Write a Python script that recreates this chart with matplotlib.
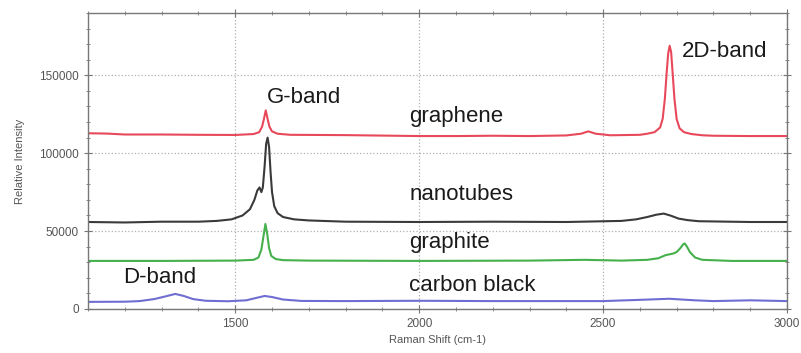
import matplotlib
matplotlib.use("Agg")
import matplotlib.pyplot as plt
from matplotlib.ticker import MultipleLocator

plt.rcParams['font.family'] = ['Liberation Sans', 'DejaVu Sans']

# Raman spectra (shift in cm-1, relative intensity)
graphene_x = [1100, 1150, 1200, 1300, 1400, 1500, 1550, 1565, 1573, 1578, 1583, 1588, 1593, 1600,
              1615, 1650, 1800, 1900, 2000, 2100, 2200, 2300, 2400, 2440, 2460, 2480, 2520, 2600,
              2620, 2640, 2655, 2662, 2668, 2673, 2677, 2681, 2685, 2689, 2694, 2700, 2708, 2720,
              2740, 2770, 2800, 2900, 3000]
graphene_y = [112800, 112600, 112000, 112000, 111800, 111700, 112300, 113500, 117000, 122000, 127500,
              122000, 117000, 114000, 112500, 111800, 111600, 111300, 111000, 111000, 111200, 111000,
              111400, 112500, 114000, 112500, 111500, 111800, 112500, 113500, 116500, 122000, 135000,
              152000, 164000, 169000, 165000, 152000, 135000, 122000, 116000, 113500, 112300, 111500,
              111200, 111000, 111000]

nanotubes_x = [1100, 1200, 1300, 1400, 1450, 1490, 1520, 1540, 1552, 1560, 1566, 1571, 1575, 1580,
               1584, 1588, 1592, 1596, 1600, 1606, 1615, 1630, 1660, 1700, 1800, 2000, 2200, 2400,
               2550, 2590, 2620, 2645, 2665, 2685, 2705, 2730, 2760, 2900, 3000]
nanotubes_y = [55800, 55500, 56000, 56000, 56500, 57500, 60000, 64000, 70000, 76000, 78000, 75000,
               78000, 92000, 106000, 110000, 104000, 88000, 75000, 66000, 61500, 59000, 57500, 56800,
               56000, 55800, 56000, 55800, 56500, 57500, 59000, 60500, 61200, 59800, 58000, 57000,
               56300, 55800, 55800]

graphite_x = [1100, 1300, 1500, 1550, 1563, 1571, 1577, 1582, 1587, 1592, 1598, 1610, 1630, 1700,
              2000, 2300, 2450, 2550, 2620, 2650, 2670, 2690, 2700, 2710, 2718, 2722, 2728, 2736,
              2750, 2770, 2850, 3000]
graphite_y = [30800, 30800, 31000, 31500, 33000, 38000, 47000, 54500, 48000, 39000, 34000, 32000,
              31300, 31000, 30800, 31000, 31500, 31000, 31500, 32500, 34500, 35500, 36500, 39000,
              41500, 42000, 40000, 36500, 33000, 31500, 30800, 30800]

cblack_x = [1100, 1200, 1240, 1280, 1310, 1337, 1360, 1385, 1420, 1480, 1530, 1560, 1580, 1600,
            1630, 1680, 1800, 2000, 2200, 2500, 2600, 2680, 2750, 2800, 2900, 3000]
cblack_y = [4500, 4600, 5000, 6300, 8000, 9600, 8300, 6300, 5200, 4900, 5500, 7200, 8300, 7600,
            6000, 5100, 5000, 5200, 5000, 5000, 5800, 6500, 5500, 5000, 5500, 5000]

# --- Figure ---
fig = plt.figure(figsize=(8.01, 3.53), dpi=100)
ax = fig.add_axes([0.11, 0.125, 0.8725, 0.838])

ax.plot(graphene_x, graphene_y, color='#e8495a', lw=1.5)
ax.plot(nanotubes_x, nanotubes_y, color='#3a3a3a', lw=1.5)
ax.plot(graphite_x, graphite_y, color='#45b04c', lw=1.5)
ax.plot(cblack_x, cblack_y, color='#6e6ed2', lw=1.5)

ax.set_xlim(1100, 3000)
ax.set_ylim(0, 190000)
ax.xaxis.set_major_locator(MultipleLocator(500))
ax.xaxis.set_minor_locator(MultipleLocator(100))
ax.yaxis.set_major_locator(MultipleLocator(50000))
ax.yaxis.set_minor_locator(MultipleLocator(10000))
ax.grid(True, which='major', color='#b0b0b0', linestyle=':', lw=0.9)

ax.tick_params(which='both', direction='inout', top=True, right=True,
               colors='#777777', labelcolor='#555555', labelsize=8.5)
ax.tick_params(which='major', length=6)
ax.tick_params(which='minor', length=3)
for s in ax.spines.values():
    s.set_color('#777777')
    s.set_linewidth(1.0)

ax.set_xlabel('Raman Shift (cm-1)', fontsize=8, color='#555555', labelpad=4)
ax.set_ylabel('Relative Intensity', fontsize=8, color='#555555', labelpad=10)

# band / sample labels
tk = dict(fontsize=16, color='#1a1a1a', va='baseline')
ax.text(1587, 132500, 'G-band', **tk)
ax.text(2715, 161500, '2D-band', **tk)
ax.text(1973, 120000, 'graphene', **tk)
ax.text(1973, 70000, 'nanotubes', **tk)
ax.text(1973, 39000, 'graphite', **tk)
ax.text(1973, 11500, 'carbon black', **tk)
ax.text(1196, 16700, 'D-band', **tk)

fig.savefig('out.png', dpi=100)
